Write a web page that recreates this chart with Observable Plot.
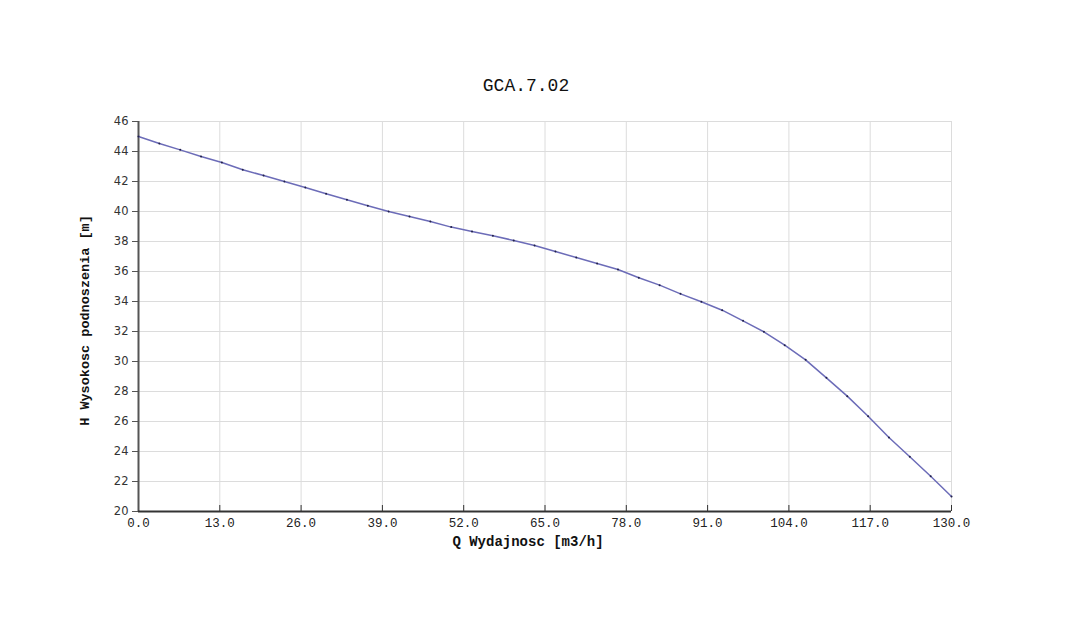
<!DOCTYPE html>
<html>
<head>
<meta charset="utf-8">
<script src="https://cdn.jsdelivr.net/npm/d3@7"></script>
<script src="https://cdn.jsdelivr.net/npm/@observablehq/plot@0.6"></script>
<style>
  html, body { margin: 0; padding: 0; background: #fff; }
  #wrap { position: relative; width: 1092px; height: 640px; }
  #title { position: absolute; left: 0; width: 1052px; top: 76px; text-align: center;
           font-family: "Liberation Mono", "DejaVu Sans Mono", monospace; font-size: 18px; color: #111; }
  #chart { position: absolute; left: 0; top: 100px; }
</style>
</head>
<body>
<div id="wrap">
  <div id="title">GCA.7.02</div>
  <div id="chart"></div>
</div>
<script>
const titleText = "GCA.7.02";
const xLabel = "Q Wydajnosc [m3/h]";
const yLabel = "H Wysokosc podnoszenia [m]";
const xTicks = [0, 13, 26, 39, 52, 65, 78, 91, 104, 117, 130];
const yTicks = [20, 22, 24, 26, 28, 30, 32, 34, 36, 38, 40, 42, 44, 46];
const Q = [0, 3.33, 6.67, 10, 13.33, 16.67, 20, 23.33, 26.67, 30,
           33.33, 36.67, 40, 43.33, 46.67, 50, 53.33, 56.67, 60, 63.33,
           66.67, 70, 73.33, 76.67, 80, 83.33, 86.67, 90, 93.33, 96.67,
           100, 103.33, 106.67, 110, 113.33, 116.67, 120, 123.33, 126.67, 130];
const H = [45.0, 44.53, 44.11, 43.67, 43.27, 42.78, 42.40, 42.00, 41.60, 41.18,
           40.78, 40.38, 40.00, 39.67, 39.33, 38.96, 38.67, 38.38, 38.07, 37.73,
           37.33, 36.93, 36.53, 36.13, 35.58, 35.09, 34.51, 33.98, 33.42, 32.71,
           31.98, 31.09, 30.11, 28.91, 27.69, 26.35, 24.93, 23.65, 22.35, 21.0];

document.getElementById("title").textContent = titleText;
const data = Q.map((q, i) => ({q, h: H[i]}));
const mono = "Liberation Mono, DejaVu Sans Mono, monospace";

const chart = Plot.plot({
  width: 1092,
  height: 540,
  marginLeft: 138,
  marginRight: 141,
  marginTop: 21,
  marginBottom: 129,
  style: {background: "#fff", overflow: "visible"},
  x: {domain: [0, 130]},
  y: {domain: [20, 46]},
  marks: [
    Plot.gridX(xTicks, {stroke: "#dcdcdc", strokeOpacity: 1}),
    Plot.gridY(yTicks, {stroke: "#dcdcdc", strokeOpacity: 1}),
    Plot.axisX(xTicks, {text: null, tickSize: 6, dy: -6, stroke: "#333", label: null}),
    Plot.axisX(xTicks, {tickSize: 0, tickPadding: 7, tickFormat: d => d.toFixed(1),
      fontFamily: mono, fontSize: 12.5, fill: "#222", label: null}),
    Plot.axisY(yTicks, {tickSize: 6, tickPadding: 4, stroke: "#555",
      fontFamily: "DejaVu Sans, sans-serif", fontSize: 11.5, fill: "#333", label: null}),
    Plot.ruleX([0], {stroke: "#555", strokeWidth: 2}),
    Plot.ruleY([20], {stroke: "#333", strokeWidth: 2}),
    Plot.line(data, {x: "q", y: "h", stroke: "#6c6cb8", strokeWidth: 1.5}),
    Plot.dot(data, {x: "q", y: "h", r: 1, fill: "#22224a", stroke: null}),
    Plot.text([xLabel], {frameAnchor: "bottom", dy: 34, dx: -17, fontFamily: mono,
      fontWeight: "bold", fontSize: 14, fill: "#111"}),
    Plot.text([yLabel], {frameAnchor: "left", rotate: -90, dx: -54, dy: 4, textAnchor: "middle",
      fontFamily: mono, fontWeight: "bold", fontSize: 13.5, fill: "#111"})
  ]
});
document.getElementById("chart").appendChild(chart);
</script>
</body>
</html>
